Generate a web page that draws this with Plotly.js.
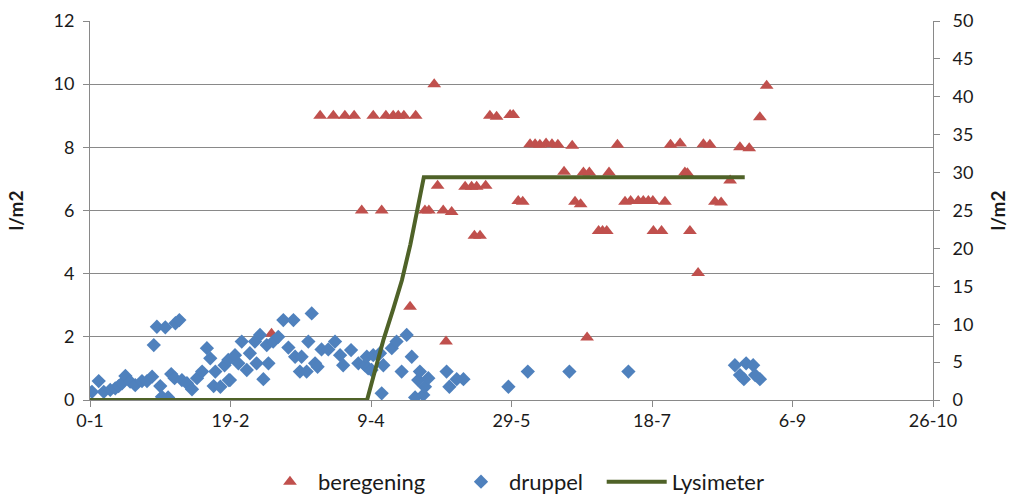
<!DOCTYPE html>
<html>
<head>
<meta charset="utf-8">
<script src="https://cdn.plot.ly/plotly-3.0.1.min.js"></script>
<style>
  html, body { margin: 0; padding: 0; background: #fff; }
  #chart { width: 1012px; height: 495px; }
</style>
</head>
<body>
<div id="chart"></div>
<script>
// Day of year (0 = 0-1) and water amount in l/m2
const xTickVals = [0, 50, 100, 150, 200, 250, 300];
const xTickText = ['0-1', '19-2', '9-4', '29-5', '18-7', '6-9', '26-10'];

// beregening (sprinkler) events, left axis
const beregeningDay = [
  64.6, 81.9, 86.6, 90.7, 94.0, 96.7, 100.8, 103.8, 105.3, 107.9, 109.7, 111.7,
  113.9, 115.9, 119.2, 120.6, 122.5, 123.7, 125.7, 126.7, 128.7, 133.5, 135.8,
  136.8, 137.6, 138.8, 140.8, 142.3, 144.7, 149.5, 150.6, 152.4, 154.0, 156.6,
  158.4, 160.1, 162.3, 164.4, 166.5, 168.7, 171.6, 172.6, 174.6, 175.6, 176.9,
  177.7, 181.0, 182.4, 183.9, 184.7, 187.7, 190.4, 192.4, 195.1, 196.9, 198.7,
  200.3, 200.5, 203.4, 204.6, 206.6, 210.0, 211.7, 212.6, 213.5, 216.4, 218.3,
  220.6, 222.4, 224.6, 227.8, 231.3, 234.6, 238.4, 240.8
];
const beregeningVal = [
  2.1, 9.0, 9.0, 9.0, 9.0, 6.0, 9.0, 6.0, 9.0, 9.0, 9.0, 9.0,
  2.95, 9.0, 6.0, 6.0, 10.0, 6.78, 6.0, 1.85, 5.95, 6.75, 6.75,
  5.2, 6.75, 5.2, 6.78, 9.0, 8.97, 9.02, 9.02, 6.3, 6.28, 8.1,
  8.1, 8.08, 8.12, 8.1, 8.08, 7.23, 8.05, 6.28, 6.2, 7.2, 1.98,
  7.2, 5.35, 5.35, 5.35, 7.2, 8.08, 6.28, 6.3, 6.3, 6.3, 6.3,
  6.3, 5.35, 5.35, 6.28, 8.08, 8.12, 7.2, 7.18, 5.35, 4.02, 8.1,
  8.08, 6.28, 6.25, 6.95, 8.0, 7.97, 8.95, 9.95
];

// druppel (drip) events, left axis
const druppelDay = [
  0.7, 3.1, 4.9, 7.2, 9.0, 10.2, 11.4, 12.6, 14.3, 16.1, 18.5, 20.3, 22.1, 22.7,
  23.8, 25.0, 25.6, 26.8, 27.8, 28.9, 30.1, 30.4, 31.8, 32.7, 34.5, 36.3, 38.1,
  39.9, 41.6, 42.8, 44.0, 44.6, 46.4, 47.9, 49.2, 49.4, 49.8, 51.6, 52.8, 54.0,
  55.8, 56.9, 58.7, 59.3, 60.5, 61.7, 62.9, 63.5, 65.2, 67.0, 68.8, 70.6, 72.4,
  73.0, 74.7, 75.3, 77.1, 77.7, 78.9, 80.1, 81.0, 82.4, 84.8, 87.2, 89.0, 90.1,
  92.9, 95.5, 97.9, 98.5, 99.0, 100.2, 100.8, 103.2, 103.8, 104.4, 107.4, 109.1,
  110.9, 112.7, 114.5, 115.7, 116.8, 117.4, 118.6, 119.2, 120.4, 126.9, 127.9,
  130.5, 132.9, 148.9, 155.8, 170.6, 191.6, 229.5, 231.3, 232.7, 233.5, 236.0,
  236.7, 238.4
];
const druppelVal = [
  0.26, 0.6, 0.26, 0.32, 0.37, 0.44, 0.53, 0.76, 0.58, 0.47, 0.6, 0.6, 0.74, 1.74,
  2.32, 0.44, 0.1, 2.3, 0.08, 0.82, 0.69, 2.43, 2.53, 0.63, 0.53, 0.34, 0.69,
  0.9, 1.64, 1.32, 0.44, 0.9, 0.42, 1.1, 1.27, 0.63, 0.63, 1.42, 1.16, 1.85,
  0.95, 1.48, 1.85, 1.16, 2.06, 0.66, 1.74, 1.16, 1.85, 2.0, 2.53, 1.66, 2.53,
  1.37, 0.9, 1.37, 0.9, 1.85, 2.74, 1.16, 1.05, 1.6, 1.6, 1.85, 1.42, 1.1,
  1.58, 1.16, 1.1, 1.37, 1.0, 0.95, 1.42, 1.48, 0.21, 1.1, 1.64, 1.85,
  0.9, 2.06, 1.37, 0.08, 0.63, 0.9, 0.16, 0.42, 0.69, 0.9, 0.42,
  0.66, 0.66, 0.42, 0.9, 0.9, 0.9, 1.1, 0.79, 0.66, 1.16, 1.1,
  0.79, 0.66
];

// Lysimeter cumulative reading, right axis
const lysimeterDay = [0, 98.6, 101.0, 104.4, 107.9, 111.0, 114.0, 116.5, 118.8, 233.0];
const lysimeterVal = [0, 0, 3.3, 7.9, 12.0, 15.8, 20.5, 25.2, 29.4, 29.4];

const axisGray = '#898989';
const textColor = '#1a1a1a';
const fontFamily = 'Lato, "Open Sans", sans-serif';

const traces = [
  {
    type: 'scatter', mode: 'markers', name: 'beregening', legend: 'legend',
    x: beregeningDay, y: beregeningVal,
    marker: { symbol: 'triangle-up', size: 12, color: '#C0504D' },
    hoverinfo: 'x+y'
  },
  {
    type: 'scatter', mode: 'markers', name: 'druppel', legend: 'legend2',
    x: druppelDay, y: druppelVal,
    marker: { symbol: 'diamond', size: 11, color: '#4F81BD' },
    hoverinfo: 'x+y'
  },
  {
    type: 'scatter', mode: 'lines', name: 'Lysimeter', legend: 'legend3',
    x: lysimeterDay, y: lysimeterVal, yaxis: 'y2',
    line: { color: '#4F6228', width: 4 },
    hoverinfo: 'x+y'
  }
];

// one legend box per series, laid out in a row under the plot
function legendAt(xPaper, itemwidth) {
  return {
    orientation: 'h', x: xPaper, xanchor: 'left', y: -0.216, yanchor: 'middle',
    font: { family: fontFamily, size: 22, color: textColor },
    itemwidth: itemwidth, bgcolor: 'rgba(0,0,0,0)', borderwidth: 0
  };
}

const layout = {
  width: 1012, height: 495,
  margin: { l: 90, r: 79, t: 21, b: 95, autoexpand: false },
  paper_bgcolor: '#ffffff', plot_bgcolor: '#ffffff',
  font: { family: fontFamily, size: 18, color: textColor },
  showlegend: true,
  legend: legendAt(0.204, 46),
  legend2: legendAt(0.4306, 46),
  legend3: legendAt(0.607, 60),
  xaxis: {
    range: [0, 300], tickvals: xTickVals, ticktext: xTickText,
    showgrid: false, zeroline: false,
    showline: true, linecolor: axisGray, linewidth: 1,
    ticks: 'outside', ticklen: 6, tickcolor: axisGray,
    ticklabelstandoff: -2,
    tickfont: { family: fontFamily, size: 18, color: textColor }
  },
  yaxis: {
    range: [0, 12], dtick: 2, tick0: 0,
    showgrid: true, gridcolor: axisGray, gridwidth: 1.3, zeroline: false,
    showline: true, linecolor: axisGray, linewidth: 1,
    ticks: 'outside', ticklen: 6, tickcolor: axisGray,
    ticklabelstandoff: 5,
    tickfont: { family: fontFamily, size: 18, color: textColor },
    title: { text: '<b>l/m2</b>', font: { family: fontFamily, size: 19, color: textColor }, standoff: 24 }
  },
  yaxis2: {
    range: [0, 50], dtick: 5, tick0: 0,
    overlaying: 'y', side: 'right',
    showgrid: false, zeroline: false,
    showline: true, linecolor: axisGray, linewidth: 1,
    ticks: 'outside', ticklen: 6, tickcolor: axisGray,
    ticklabelstandoff: 9,
    tickfont: { family: fontFamily, size: 18, color: textColor },
    title: { text: '<b>l/m2</b>', font: { family: fontFamily, size: 19, color: textColor }, standoff: 19 }
  }
};

Plotly.newPlot('chart', traces, layout, { displayModeBar: false, staticPlot: true });
</script>
</body>
</html>
